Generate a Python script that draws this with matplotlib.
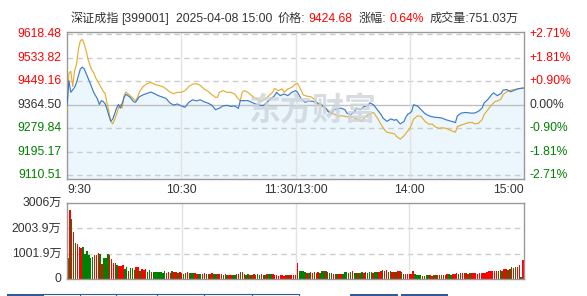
import matplotlib
matplotlib.use('Agg')
import matplotlib.pyplot as plt
from matplotlib.patches import Rectangle
from matplotlib.lines import Line2D

# ---------------- data ----------------
prev_close = 9364.50
price_ticks = [9618.48, 9533.82, 9449.16, 9364.50, 9279.84, 9195.17, 9110.51]
pct_ticks = ["+2.71%", "+1.81%", "+0.90%", "0.00%", "-0.90%", "-1.81%", "-2.71%"]
time_labels = ["9:30", "10:30", "11:30/13:00", "14:00", "15:00"]
time_label_pos = [0, 60, 120, 180, 240]
vol_ticks = [3006, 2003.9, 1001.9, 0]
vol_tick_labels = ["3006万", "2003.9万", "1001.9万", "0"]

# price line (minutes after 9:30, lunch break removed)
blue_t = [0, 1, 2, 3, 4, 5, 6, 7, 8, 9, 10, 11, 12, 13, 14, 15, 16, 17, 18, 19,
          20, 21, 22, 23, 24, 25, 26, 27, 28, 29, 30, 31, 33, 35, 36, 38, 40, 42, 44, 46,
          48, 50, 52, 54, 56, 58, 60, 62, 64, 66, 68, 70, 72, 74, 76, 78, 80, 82, 84, 86,
          88, 90, 91, 93, 95, 97, 99, 101, 103, 105, 107, 109, 110, 112, 114, 116, 118, 120, 121, 123,
          125, 127, 129, 131, 133, 135, 136, 137, 139, 140, 142, 144, 146, 147, 149, 151, 152, 154, 156, 158,
          159, 161, 163, 165, 166, 168, 170, 172, 173, 175, 177, 178, 179, 180, 181, 182, 184, 186, 188, 189,
          191, 193, 195, 197, 199, 201, 202, 204, 205, 207, 209, 210, 212, 214, 216, 218, 219, 221, 223, 224,
          226, 228, 229, 231, 233, 235, 237, 240]
blue_v = [9361, 9451, 9409, 9418, 9427, 9445, 9469, 9493, 9500, 9494, 9478, 9463, 9445, 9427, 9409, 9397, 9385, 9365, 9379, 9376,
          9368, 9349, 9325, 9305, 9312, 9331, 9352, 9365, 9352, 9370, 9391, 9402, 9392, 9375, 9373, 9393, 9400, 9405, 9410, 9404,
          9397, 9392, 9387, 9371, 9363, 9367, 9360, 9355, 9373, 9382, 9378, 9382, 9375, 9370, 9363, 9346, 9352, 9360, 9362, 9358,
          9360, 9351, 9379, 9379, 9379, 9373, 9367, 9363, 9361, 9373, 9385, 9397, 9409, 9397, 9403, 9397, 9409, 9415, 9410, 9385,
          9373, 9377, 9377, 9371, 9367, 9358, 9352, 9340, 9331, 9346, 9349, 9352, 9346, 9334, 9328, 9340, 9352, 9346, 9358, 9361,
          9371, 9364, 9346, 9328, 9316, 9304, 9313, 9308, 9311, 9295, 9304, 9320, 9330, 9334, 9340, 9364, 9360, 9346, 9332, 9328,
          9322, 9319, 9318, 9316, 9310, 9306, 9304, 9300, 9324, 9334, 9336, 9336, 9334, 9334, 9340, 9352, 9370, 9383, 9401, 9407,
          9397, 9405, 9417, 9419, 9411, 9417, 9422, 9424.68]

# second (yellow) line
yellow_t = [0, 1, 2, 3, 4, 5, 6, 7, 8, 9, 10, 11, 12, 13, 14, 15, 16, 17, 18, 19,
            20, 21, 22, 23, 24, 25, 26, 27, 28, 29, 30, 31, 33, 35, 36, 37, 38, 40, 42, 44,
            46, 48, 50, 52, 54, 56, 58, 60, 62, 64, 66, 68, 70, 72, 74, 76, 78, 79, 80, 82,
            84, 86, 88, 90, 91, 92, 93, 95, 97, 99, 101, 102, 104, 106, 108, 109, 111, 113, 114, 116,
            118, 120, 121, 122, 124, 126, 128, 129, 131, 132, 134, 136, 138, 139, 141, 143, 144, 146, 148, 150,
            151, 153, 155, 156, 158, 160, 161, 163, 165, 167, 168, 170, 172, 173, 175, 177, 179, 180, 182, 184,
            186, 188, 190, 192, 193, 195, 197, 199, 201, 202, 204, 205, 207, 209, 211, 213, 214, 216, 218, 219,
            221, 223, 225, 226, 228, 229, 231, 233, 235, 237, 240]
yellow_v = [9345, 9478, 9485, 9430, 9487, 9510, 9565, 9595, 9600, 9585, 9560, 9530, 9508, 9490, 9480, 9462, 9450, 9438, 9425, 9413,
            9405, 9370, 9340, 9303, 9295, 9310, 9330, 9352, 9365, 9352, 9398, 9410, 9398, 9385, 9379, 9390, 9410, 9430, 9440, 9445,
            9438, 9434, 9430, 9422, 9410, 9404, 9409, 9409, 9415, 9430, 9439, 9440, 9434, 9421, 9413, 9401, 9391, 9391, 9409, 9415,
            9409, 9409, 9403, 9385, 9379, 9409, 9415, 9409, 9397, 9387, 9381, 9375, 9385, 9397, 9409, 9423, 9415, 9421, 9409, 9421,
            9427, 9439, 9441, 9430, 9400, 9395, 9393, 9389, 9376, 9364, 9358, 9349, 9340, 9334, 9328, 9322, 9325, 9322, 9320, 9320,
            9316, 9310, 9303, 9316, 9328, 9334, 9336, 9316, 9292, 9271, 9265, 9262, 9259, 9250, 9240, 9252, 9270, 9276, 9312, 9324,
            9322, 9304, 9294, 9294, 9286, 9279, 9281, 9279, 9273, 9270, 9265, 9285, 9291, 9295, 9300, 9300, 9295, 9297, 9310, 9328,
            9346, 9364, 9377, 9377, 9385, 9401, 9411, 9417, 9419, 9422, 9425]

# per-minute volume (万), 241 bars
volume = [842, 2752, 2378, 1844, 1416, 1390, 1256, 1216, 1283, 975,
          1109, 935, 815, 882, 949, 949, 1029, 989, 588, 815,
          815, 975, 949, 775, 641, 641, 534, 508, 508, 534,
          401, 454, 321, 414, 414, 347, 468, 454, 321, 374,
          360, 374, 281, 347, 281, 267, 254, 267, 254, 254,
          240, 294, 240, 254, 240, 307, 267, 254, 230, 254,
          214, 200, 214, 254, 227, 214, 227, 214, 200, 200,
          187, 200, 214, 200, 187, 200, 214, 200, 187, 187,
          200, 187, 160, 174, 160, 147, 160, 160, 160, 174,
          200, 281, 267, 187, 160, 174, 160, 147, 174, 147,
          174, 160, 174, 160, 160, 174, 174, 174, 174, 160,
          147, 120, 134, 134, 120, 134, 147, 147, 134, 134,
          134, 628, 307, 307, 294, 254, 214, 227, 254, 240,
          254, 240, 254, 227, 320, 294, 307, 280, 240, 227,
          200, 187, 187, 174, 187, 200, 254, 254, 240, 254,
          307, 240, 240, 227, 240, 254, 240, 267, 240, 254,
          254, 240, 267, 254, 280, 300, 347, 320, 347, 281,
          294, 281, 267, 281, 294, 307, 254, 174, 174, 187,
          174, 200, 294, 200, 160, 147, 134, 120, 120, 134,
          134, 134, 120, 134, 147, 134, 134, 147, 134, 160,
          174, 174, 160, 174, 187, 214, 200, 227, 240, 214,
          227, 200, 214, 214, 227, 214, 200, 227, 214, 227,
          227, 254, 294, 307, 307, 320, 307, 320, 347, 320,
          374, 374, 360, 400, 454, 440, 481, 454, 548, 60,
          748]
vol_dir = ("GRGRGRRRGG" "GGGGRRRGRG" "GGRRRRGRRR" "GGRGGGRRGR" "RRGGRGGGGG"
           "GGRRRGRRGR" "RGGRRGGRRG" "GRRGGRRGGR" "RRGRGRRGGR" "RGRRGGRGRR"
           "GGRRGRGGRR" "RRRRRRGRRR" "RRGGGGRGRR" "GRRGGGRGGG" "RRGRRGGGRG"
           "RGGRGGRRGG" "GRGGRRGRRG" "GRRGRRGGRR" "RRRGGGGRGG" "GRRGRGRRGR"
           "RGGRRRGRRG" "RRGRRRRRRR" "RRRRRRRGRG" "RRGRGRGRRG" "R")

# ---------------- figure ----------------
W, H = 587, 296
plt.rcParams['font.family'] = ['Liberation Sans', 'Noto Sans CJK SC', 'DejaVu Sans']
fig = plt.figure(figsize=(W / 100, H / 100), dpi=100)


def fx(x):
    return x / W


def fy(y):
    return 1 - y / H


RED = '#ff0000'
GREEN = '#008000'
DARK = '#333333'
FS = 8.7

# title row
title_parts = [
    (71, "深证成指", DARK), (121, "[399001]", DARK), (176, "2025-04-08 15:00", DARK),
    (278, "价格:", DARK), (308, "9424.68", RED), (359, "涨幅:", DARK),
    (389, "0.64%", RED), (430, "成交量:751.03万", DARK),
]
for x, s, c in title_parts:
    fig.text(fx(x), fy(19), s, color=c, fontsize=FS, ha='left', va='center')

# watermark (behind the price axes, which is transparent)
fig.text(fx(312), fy(112), "东方财富", fontsize=23, color='#cdd4da', alpha=0.8,
         ha='center', va='center', fontweight='bold', family=['Noto Sans CJK SC'], zorder=0)

# ---------------- main price axes ----------------
L, R = 67, 524
ax = fig.add_axes([fx(L), fy(178.7), (R - L) / W, (178.7 - 31.7) / H])
ax.set_xlim(0, 240)
ax.set_ylim(9097.1, 9627.9)
ax.set_xticks([])
ax.set_yticks([])
ax.set_facecolor('none')
for sp in ax.spines.values():
    sp.set_color('#999999')
    sp.set_linewidth(1.0)

for v in price_ticks:
    if v == prev_close:
        ax.axhline(v, color='#c0c0c0', lw=1.0, zorder=1)
    else:
        ax.axhline(v, color='#cccccc', lw=1.0, ls=(0, (4, 3)), zorder=1)
for t in [60, 120, 180]:
    ax.axvline(t, color='#e2e2e2', lw=1.0, zorder=1)

ax.fill_between(blue_t, blue_v, 9097.1, color='#e8f5fd', alpha=0.85, zorder=0.5, lw=0)
ax.plot(yellow_t, yellow_v, color='#e6ad32', lw=0.85, zorder=3)
ax.plot(blue_t, blue_v, color='#3d7ac6', lw=0.85, zorder=4)

for v, pl in zip(price_ticks, pct_ticks):
    if v > prev_close:
        c = RED
    elif v < prev_close:
        c = GREEN
    else:
        c = DARK
    ax.text(-5.5 / (R - L), v, f"{v:.2f}", transform=ax.get_yaxis_transform(),
            ha='right', va='center', color=c, fontsize=FS)
    ax.text(1 + 5 / (R - L), v, pl, transform=ax.get_yaxis_transform(),
            ha='left', va='center', color=c, fontsize=FS)

# time labels
for t, s in zip(time_label_pos, time_labels):
    x = L + t * (R - L) / 240
    ha = 'center'
    if t == 0:
        ha = 'left'
        x = L + 0.5
    elif t == 240:
        ha = 'right'
    fig.text(fx(x), fy(190), s, color=DARK, fontsize=FS, ha=ha, va='center')

# ---------------- volume axes ----------------
axv = fig.add_axes([fx(L), fy(278.7), (R - L) / W, (278.7 - 203.3) / H])
axv.set_xlim(-0.5, 240.5)
axv.set_ylim(0, 3006)
axv.set_xticks([])
axv.set_yticks([])
for sp in axv.spines.values():
    sp.set_color('#999999')
    sp.set_linewidth(1.0)
for v in [1001.9, 2003.9]:
    axv.axhline(v, color='#cccccc', lw=1.0, ls=(0, (4, 3)), zorder=1)
for t in [60, 120, 180]:
    axv.axvline(t, color='#e2e2e2', lw=1.0, zorder=1)
colors = [RED if d == 'R' else GREEN for d in vol_dir]
axv.bar(range(len(volume)), volume, width=0.8, color=colors, lw=0, zorder=2)
for v, s in zip(vol_ticks, vol_tick_labels):
    axv.text(-5.5 / (R - L), v, s, transform=axv.get_yaxis_transform(),
             ha='right', va='center', color=DARK, fontsize=FS)

# ---------------- bottom tab strip ----------------
TAB = '#2f5b9b'
for x0, x1 in [(7, 43), (350, 398), (401, 448)]:
    fig.patches.append(Rectangle((fx(x0), 0), (x1 - x0) / W, 2.5 / H,
                                 transform=fig.transFigure, color=TAB, lw=0))
fig.lines.append(Line2D([fx(43), fx(299)], [fy(294), fy(294)],
                        transform=fig.transFigure, color=TAB, lw=0.8))
for x in [43, 80, 116, 157, 204, 252, 299]:
    fig.lines.append(Line2D([fx(x), fx(x)], [fy(294), 0],
                            transform=fig.transFigure, color=TAB, lw=0.8))

fig.savefig('out.png', dpi=100)
